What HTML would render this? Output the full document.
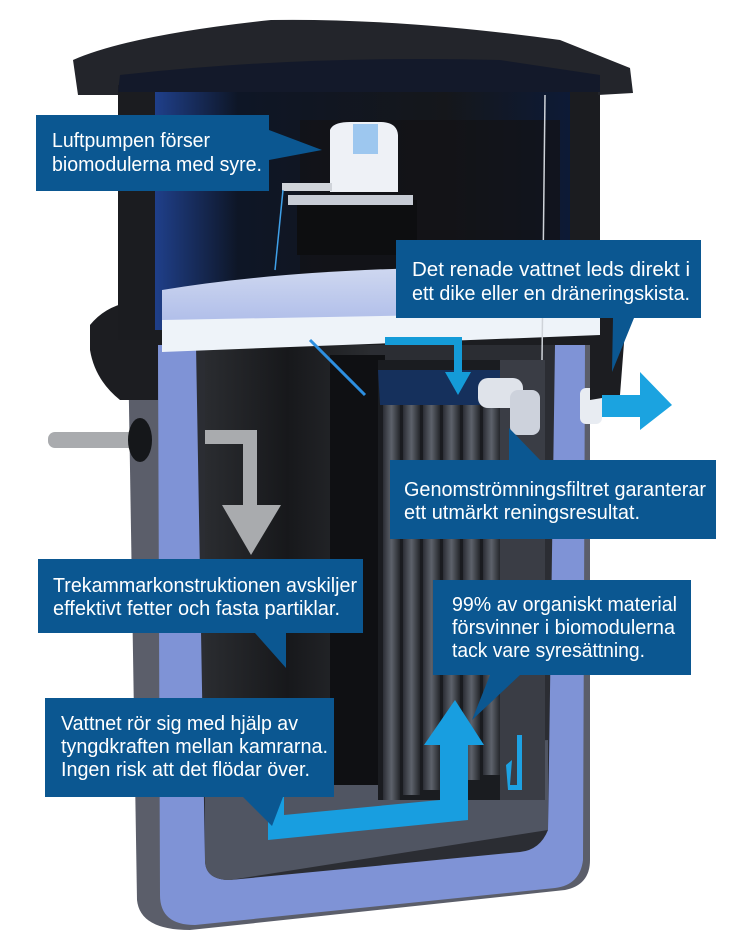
<!DOCTYPE html>
<html><head><meta charset="utf-8"><style>
html,body{margin:0;padding:0;background:#fff;}
svg{display:block}
text{font-family:"Liberation Sans",sans-serif;fill:#fff;font-size:20px;}
</style></head><body>
<svg width="736" height="942" viewBox="0 0 736 942" xmlns="http://www.w3.org/2000/svg">
<defs>
<linearGradient id="inner" x1="0" x2="1" y1="0" y2="0">
<stop offset="0" stop-color="#1f3f8a"/><stop offset="0.2" stop-color="#0e1626"/><stop offset="0.7" stop-color="#15171b"/><stop offset="1" stop-color="#0d1a36"/></linearGradient>
<linearGradient id="disc" x1="0" y1="0" x2="0" y2="1"><stop offset="0" stop-color="#cfd8f0"/><stop offset="1" stop-color="#a9b8e8"/></linearGradient>
<linearGradient id="dark" x1="0" x2="1"><stop offset="0" stop-color="#2a2c30"/><stop offset="0.5" stop-color="#17181b"/><stop offset="1" stop-color="#2a2c30"/></linearGradient>
<linearGradient id="tube" x1="0" x2="1"><stop offset="0" stop-color="#2b2e35"/><stop offset="0.5" stop-color="#5d626b"/><stop offset="1" stop-color="#24262b"/></linearGradient>
</defs>
<path d="M128 345 L590 345 L590 860 Q590 885 565 890 L190 930 Q140 930 137 900 Z" fill="#5b5e6a"/>
<path d="M158 345 L585 345 L583 860 Q580 885 555 888 L195 925 Q160 925 160 895 Z" fill="#7f93d6"/>
<path d="M196 345 L555 345 L548 830 Q540 850 520 852 L230 880 Q205 880 205 860 Z" fill="#2b2d33"/>
<path d="M205 760 L548 740 L548 830 L230 880 Q205 880 205 860 Z" fill="#505562"/>
<rect x="205" y="345" width="165" height="420" fill="url(#dark)"/>
<rect x="330" y="355" width="55" height="430" fill="#0f1013"/>
<g>
<rect x="378" y="360" width="125" height="440" fill="#1a1c20"/>
<rect x="383" y="400" width="17" height="400" fill="url(#tube)"/>
<rect x="403" y="400" width="17" height="395" fill="url(#tube)"/>
<rect x="423" y="400" width="17" height="390" fill="url(#tube)"/>
<rect x="443" y="400" width="17" height="385" fill="url(#tube)"/>
<rect x="463" y="400" width="17" height="380" fill="url(#tube)"/>
<rect x="483" y="400" width="17" height="375" fill="url(#tube)"/>
<polygon points="378,370 500,370 520,405 380,405" fill="#15305c"/>
</g>
<rect x="500" y="360" width="45" height="440" fill="#3a3d45"/>
<rect x="478" y="378" width="45" height="30" rx="10" fill="#dfe3ea"/>
<rect x="510" y="390" width="30" height="45" rx="8" fill="#cdd2dc"/>
<rect x="580" y="388" width="22" height="36" rx="6" fill="#e8ecf2"/>
<path d="M90 325 Q110 300 150 300 L590 300 Q620 300 625 330 L620 395 L590 400 L590 345 L158 345 L158 400 L120 400 Q95 380 90 350 Z" fill="#1c1d21"/>
<rect x="118" y="60" width="482" height="280" fill="#1b1c20"/>
<rect x="155" y="85" width="415" height="245" fill="url(#inner)"/>
<rect x="300" y="120" width="260" height="200" fill="#121316" opacity="0.7"/>
<path d="M73 60 Q130 35 271 20 Q400 18 560 40 L630 68 L633 93 L598 95 L598 85 L118 85 L118 95 L78 95 Z" fill="#23252b"/>
<path d="M120 75 Q300 55 500 60 L600 75 L600 92 L118 92 Z" fill="#13192a"/>
<path d="M162 290 Q330 262 600 268 L600 330 L162 335 Z" fill="url(#disc)"/>
<path d="M162 320 L600 312 L600 335 L162 352 Z" fill="#eef3f9"/>
<rect x="297" y="200" width="120" height="55" fill="#0d0e10"/>
<rect x="288" y="195" width="125" height="10" fill="#c7ccd5"/>
<path d="M330 130 Q333 122 350 122 L380 122 Q397 122 398 135 L398 192 L330 192 Z" fill="#eef1f6"/>
<rect x="353" y="124" width="25" height="30" fill="#9dc7ef"/>
<rect x="282" y="183" width="50" height="8" fill="#d0d4da"/>
<line x1="283" y1="190" x2="275" y2="270" stroke="#3fa0e8" stroke-width="1.5"/>
<line x1="545" y1="95" x2="542" y2="360" stroke="#cfd3d9" stroke-width="1.5"/>
<line x1="310" y1="340" x2="365" y2="395" stroke="#2d8fe0" stroke-width="3"/>
<rect x="48" y="432" width="95" height="16" rx="7" fill="#a9abae"/>
<ellipse cx="140" cy="440" rx="12" ry="22" fill="#15171a"/>
<path d="M205 430 L257 430 L257 505 L281 505 L251 555 L222 505 L243 505 L243 444 L205 444 Z" fill="#a9abae"/>
<path d="M385 345 L385 337 L462 337 L462 372 L471 372 L458 395 L445 372 L454 372 L454 345 Z" fill="#149bd8"/>
<path d="M602 395 L640 395 L640 372 L672 405 L640 430 L640 417 L602 417 Z" fill="#1ba3e0"/>
<path d="M268 795 L284 795 L284 815 L440 800 L440 745 L424 745 L455 700 L484 745 L468 745 L468 820 L268 840 Z" fill="#189ee0"/>
<path d="M517 735 L522 735 L522 790 L508 790 L506 765 L512 760 L510 785 L517 785 Z" fill="#1da2e3"/>
<g fill="#0b5791">
<path d="M36 115 L269 115 L269 130 L322 150 L269 160 L269 191 L36 191 Z"/>
<path d="M396 240 L701 240 L701 318 L634 318 L612 372 L613 318 L396 318 Z"/>
<path d="M390 460 L716 460 L716 539 L390 539 Z"/>
<path d="M509 428 L540 460 L509 460 Z"/>
<path d="M38 559 L363 559 L363 633 L286 633 L286 668 L255 633 L38 633 Z"/>
<path d="M433 580 L691 580 L691 675 L520 675 L472 720 L490 675 L433 675 Z"/>
<path d="M45 698 L334 698 L334 797 L283 797 L272 826 L243 797 L45 797 Z"/>
</g>
<g lengthAdjust="spacingAndGlyphs">
<text x="52" y="147" textLength="158" lengthAdjust="spacingAndGlyphs">Luftpumpen förser</text>
<text x="52" y="171" textLength="210" lengthAdjust="spacingAndGlyphs">biomodulerna med syre.</text>
<text x="412" y="276" textLength="278" lengthAdjust="spacingAndGlyphs">Det renade vattnet leds direkt i</text>
<text x="412" y="300" textLength="278" lengthAdjust="spacingAndGlyphs">ett dike eller en dräneringskista.</text>
<text x="404" y="496" textLength="302" lengthAdjust="spacingAndGlyphs">Genomströmningsfiltret garanterar</text>
<text x="404" y="519" textLength="236" lengthAdjust="spacingAndGlyphs">ett utmärkt reningsresultat.</text>
<text x="53" y="592" textLength="304" lengthAdjust="spacingAndGlyphs">Trekammarkonstruktionen avskiljer</text>
<text x="53" y="615" textLength="287" lengthAdjust="spacingAndGlyphs">effektivt fetter och fasta partiklar.</text>
<text x="452" y="611" textLength="225" lengthAdjust="spacingAndGlyphs">99% av organiskt material</text>
<text x="452" y="634" textLength="223" lengthAdjust="spacingAndGlyphs">försvinner i biomodulerna</text>
<text x="452" y="657" textLength="193" lengthAdjust="spacingAndGlyphs">tack vare syresättning.</text>
<text x="61" y="730" textLength="237" lengthAdjust="spacingAndGlyphs">Vattnet rör sig med hjälp av</text>
<text x="61" y="753" textLength="267" lengthAdjust="spacingAndGlyphs">tyngdkraften mellan kamrarna.</text>
<text x="61" y="776" textLength="249" lengthAdjust="spacingAndGlyphs">Ingen risk att det flödar över.</text>
</g>
</svg>
</body></html>
